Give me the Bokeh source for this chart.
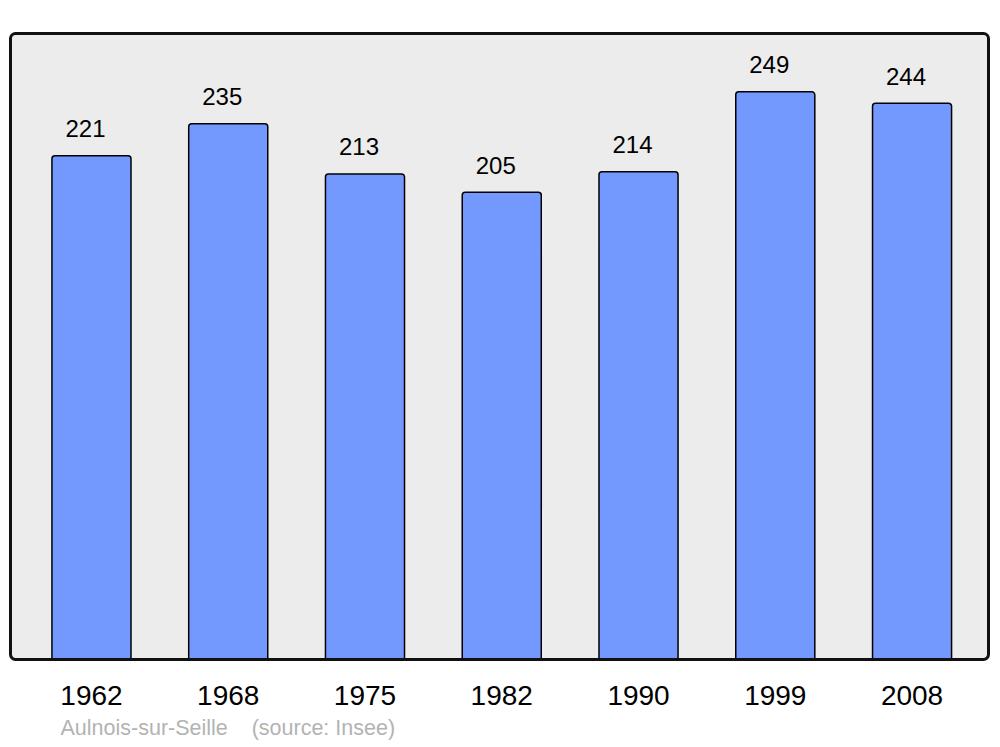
from bokeh.plotting import figure
from bokeh.models import ColumnDataSource, FixedTicker, BoxAnnotation, Range1d, Title
from bokeh.core.properties import value
from bokeh.embed import file_html
from bokeh.resources import INLINE

years = ["1962", "1968", "1975", "1982", "1990", "1999", "2008"]
population = [221, 235, 213, 205, 214, 249, 244]
positions = list(range(len(years)))
footer = "Aulnois-sur-Seille\u00a0\u00a0\u00a0\u00a0(source: Insee)"

FONT = "Liberation Sans"

src = ColumnDataSource(dict(x=positions, pop=population, lab=[str(v) for v in population]))

X0, X1 = -0.592, 6.559
Y0, Y1 = 0.0, 274.6
pad_x = 3 / 136.75
pad_y = 3 / 2.2797

p = figure(width=995, height=747, output_backend="svg", toolbar_location=None,
           x_range=Range1d(X0 - pad_x, X1 + pad_x), y_range=Range1d(Y0 - pad_y, Y1 + pad_y),
           min_border_left=7, min_border_right=4, min_border_top=30, min_border_bottom=85)
p.outline_line_color = None
p.background_fill_color = "white"
p.border_fill_color = "white"
p.grid.visible = False
p.yaxis.visible = False

bg = BoxAnnotation(left=X0, right=X1, bottom=Y0, top=Y1, fill_color="#ececec",
                   fill_alpha=1, line_color=None, border_radius=5, level="underlay")
p.add_layout(bg)

p.vbar(x="x", top="pop", bottom=0, width=0.578, source=src, fill_color="#7399ff",
       line_color="black", line_width=1.5, border_radius=[3, 3, 0, 0])

p.text(x="x", y="pop", text="lab", source=src, text_align="center",
       text_baseline="alphabetic", y_offset=-27, x_offset=-6,
       text_font=value(FONT), text_font_size="24px", text_color="black")

frame = BoxAnnotation(left=X0, right=X1, bottom=Y0, top=Y1, fill_alpha=0,
                      line_color="#111111", line_alpha=1, line_width=3,
                      border_radius=5, level="overlay")
p.add_layout(frame)

ax = p.xaxis[0]
ax.ticker = FixedTicker(ticks=positions)
ax.major_label_overrides = {i: y for i, y in zip(positions, years)}
ax.axis_line_color = None
ax.major_tick_line_color = None
ax.minor_tick_line_color = None
ax.major_label_text_font = FONT
ax.major_label_text_font_size = "28px"
ax.major_label_text_color = "black"
ax.major_label_standoff = 17

t = Title(text=footer, align="left", offset=53, standoff=13, text_font=FONT,
          text_font_size="21.5px", text_color="#b3b3b3", text_font_style="normal")
p.add_layout(t, "below")

open("out.html", "w").write(file_html(p, INLINE))
